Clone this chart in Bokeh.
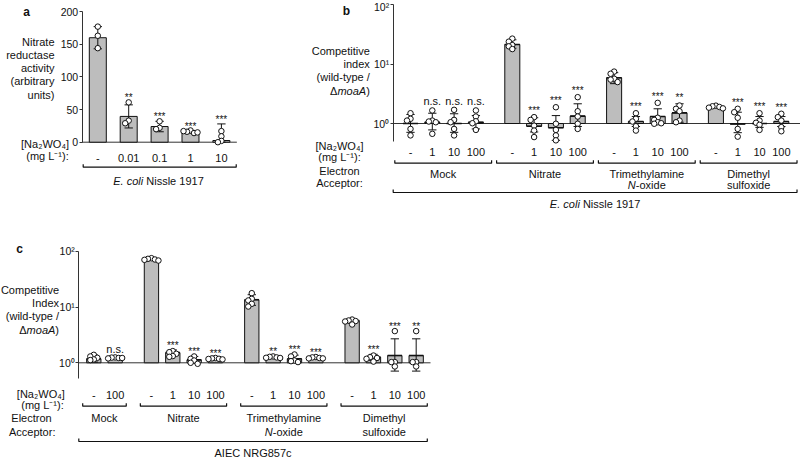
import math
from bokeh.plotting import figure
from bokeh.layouts import column, row
from bokeh.models import Range1d, FixedTicker, CustomJSTickFormatter
from bokeh.core.properties import value
from bokeh.embed import file_html
from bokeh.resources import INLINE

FONT = "Liberation Sans"
INK = "#111111"
AXIS = "#333333"
BAR = "#bdbdbd"

# ---------------- data ----------------
a_doses = ["-", "0.01", "0.1", "1", "10"]
a_mean = [160, 39.5, 24, 16, 2.6]
a_sd = [17, 17.7, 8, 2, 25.4]
a_points = [[177, 163, 144], [61, 33, 29], [32, 22, 20], [18, 16, 14, 17, 15], [17, 9, 2, 0]]
a_sig = ["", "**", "***", "***", "***"]
a_ticks = [0, 50, 100, 150, 200]

acceptor_lines = [["Mock"], ["Nitrate"], ["Trimethylamine", "N-oxide"], ["Dimethyl", "sulfoxide"]]

b_doses = [["-", "1", "10", "100"], ["-", "1", "10", "100"], ["-", "1", "10", "100"], ["-", "1", "10", "100"]]
b_mean = [[1.0, 1.05, 1.0, 1.05], [21.5, 0.90, 0.85, 1.33], [5.9, 1.08, 1.31, 1.51], [1.93, 0.98, 1.0, 1.08]]
b_lo = [[0.71, 0.78, 0.71, 0.81], [18.6, 0.72, 0.52, 0.89], [4.7, 0.89, 1.01, 1.05], [1.85, 0.70, 0.86, 0.89]]
b_hi = [[1.42, 1.49, 1.46, 1.36], [25.8, 1.25, 1.36, 2.15], [7.2, 1.31, 1.77, 2.15], [1.98, 1.55, 1.31, 1.31]]
b_points = [
    [[1.49, 1.20, 1.12, 0.81, 0.63], [1.66, 1.12, 1.08, 1.05, 0.67], [1.70, 1.15, 1.05, 0.81, 0.63], [1.66, 1.31, 1.09, 1.01, 0.78]],
    [[27, 24, 21, 20, 18], [1.28, 1.15, 0.92, 0.76, 0.59], [1.88, 0.99, 0.78, 0.63, 0.52], [2.78, 1.61, 1.31, 0.99, 0.81]],
    [[7.5, 6.9, 5.7, 5.5, 5.0], [1.49, 1.20, 1.08, 0.90, 0.76], [2.23, 1.25, 1.15, 1.05, 1.01, 0.99], [2.01, 1.77, 1.61, 1.12, 1.05]],
    [[2.0, 1.95, 1.9, 1.85, 1.8], [1.77, 1.55, 1.25, 0.81, 0.60], [1.49, 1.12, 1.03, 0.95, 0.78], [1.46, 1.28, 1.12, 0.87, 0.74]],
]
b_sig = [["", "n.s.", "n.s.", "n.s."], ["", "***", "***", "***"], ["", "***", "***", "**"], ["", "***", "***", "***"]]

c_doses = [["-", "100"], ["-", "1", "10", "100"], ["-", "1", "10", "100"], ["-", "1", "10", "100"]]
c_mean = [[1.18, 1.23], [71, 1.52, 1.13, 1.18], [13.5, 1.26, 1.18, 1.23], [5.7, 1.26, 1.35, 1.35]]
c_lo = [[1.03, 1.2], [68, 1.35, 0.98, 1.15], [10.7, 1.22, 1.02, 1.19], [5.1, 1.1, 0.71, 0.71]]
c_hi = [[1.38, 1.26], [74, 1.7, 1.3, 1.21], [16.6, 1.3, 1.37, 1.27], [6.1, 1.42, 2.69, 2.69]]
c_points = [
    [[1.39, 1.30, 1.23, 1.15, 1.12], [1.25, 1.24, 1.22, 1.20, 1.22]],
    [[75, 73, 71, 70, 68], [1.62, 1.55, 1.45, 1.32, 1.28], [1.30, 1.18, 1.10, 1.00, 0.96], [1.22, 1.20, 1.18, 1.17, 1.15]],
    [[17.7, 14.0, 13.1, 11.4, 10.2], [1.30, 1.28, 1.25, 1.23, 1.22], [1.41, 1.30, 1.10, 1.07, 1.03], [1.27, 1.25, 1.22, 1.20, 1.20]],
    [[5.96, 5.73, 5.6, 5.5, 4.86], [1.35, 1.26, 1.22, 1.18, 1.05], [3.7, 1.03, 0.86, 1.03], [3.7, 1.03, 0.86, 1.03]],
]
c_sig = [["", "n.s."], ["", "***", "***", "***"], ["", "**", "***", "***"], ["", "***", "***", "**"]]

# ---------------- layout helpers ----------------
W_ALL, H_ALL = 800, 458
SX = W_ALL / 800
SY = H_ALL / 458
TOP_H = 220
A_W = 265


class Geo:
    """maps reference-picture pixels to data coordinates"""
    def __init__(self, X0, U, Yb, S, log):
        self.X0, self.U, self.Yb, self.S, self.log = X0, U, Yb, S, log

    def x(self, X):
        return (X - self.X0) / self.U

    def y(self, Y):
        v = (self.Yb - Y) / self.S
        return 10 ** v if self.log else v

    def Y(self, v):
        return self.Yb - (math.log10(v) if self.log else v) * self.S


def make_fig(G, L, T, W, H):
    p = figure(width=W, height=H,
               x_range=Range1d(G.x(L / SX), G.x((L + W) / SX)),
               y_range=Range1d(G.y((T + H) / SY), G.y(T / SY)),
               y_axis_type="log" if G.log else "linear",
               output_backend="svg", toolbar_location=None, title=None)
    p.min_border = 0
    p.min_border_left = p.min_border_right = p.min_border_top = p.min_border_bottom = 0
    p.outline_line_color = None
    p.background_fill_color = "white"
    p.border_fill_color = "white"
    p.grid.visible = False
    p.xaxis.visible = False
    return p


def setup_yaxis(p, G, axis_X, bounds, ticks):
    ax = p.yaxis[0]
    ax.fixed_location = G.x(axis_X)
    ax.bounds = bounds
    ax.ticker = FixedTicker(ticks=ticks)
    ax.axis_line_color = AXIS
    ax.axis_line_width = 1
    ax.major_tick_line_color = AXIS
    ax.major_tick_out = 3
    ax.major_tick_in = 0
    ax.minor_tick_line_color = None
    ax.major_label_standoff = 1
    ax.major_label_text_font = FONT
    ax.major_label_text_font_size = "10.5px"
    ax.major_label_text_color = INK
    if G.log:
        ax.formatter = CustomJSTickFormatter(code="""
            const e = Math.round(Math.log10(tick));
            const sup = {"0": "\u2070", "1": "\u00b9", "2": "\u00b2", "3": "\u00b3", "-": "\u207b"};
            return "10" + String(e).split("").map(c => sup[c]).join("");
        """)


def txt(p, x, y, s, size="11px", align="center", style="normal", xo=0, baseline="middle"):
    p.text(x=[x], y=[y], text=[s], text_font=value(FONT), text_font_size=size,
           text_align=align, text_baseline=baseline, text_font_style=style,
           x_offset=xo, text_color=INK)


def swarm(G, vals, step):
    placed, offs = [], []
    for v in vals:
        Yp = G.Y(v) if (v > 0 or not G.log) else G.Yb
        dx = 0.0
        for k in [0, -1, 1, -2, 2, -3, 3]:
            dx = k * step
            if all((dx - ox) ** 2 + (Yp - oy) ** 2 >= step ** 2 - 1e-6 for ox, oy in placed):
                break
        placed.append((dx, Yp))
        offs.append(dx / G.U)
    return offs


def draw_bars(p, G, xs, means, lo, hi, pts, sig, bw, cw, base, star_gap, ns_gap, step):
    n = len(xs)
    p.quad(left=[x - bw / 2 for x in xs], right=[x + bw / 2 for x in xs],
           bottom=[base] * n, top=means, fill_color=BAR, line_color=INK, line_width=1)
    if G.log:
        p.segment(x0=[x - bw / 2 for x in xs], x1=[x + bw / 2 for x in xs], y0=means, y1=means,
                  line_color=INK, line_width=1.6)
    p.segment(x0=xs, x1=xs, y0=lo, y1=hi, line_color=INK, line_width=1)
    p.segment(x0=[x - cw / 2 for x in xs] * 2, x1=[x + cw / 2 for x in xs] * 2,
              y0=list(hi) + list(lo), y1=list(hi) + list(lo), line_color=INK, line_width=1)
    px, py = [], []
    for x, vals in zip(xs, pts):
        for o, v in zip(swarm(G, vals, step), vals):
            px.append(x + o)
            py.append(v)
    p.scatter(x=px, y=py, marker="circle", size=5.5, fill_color="white", line_color=INK, line_width=1)
    for x, h, vals, s in zip(xs, hi, pts, sig):
        if not s:
            continue
        top = min([G.Y(h)] + [G.Y(v) for v in vals if (v > 0 or not G.log)])
        if s == "n.s.":
            txt(p, x, G.y(top - ns_gap), s, size="11px")
        else:
            txt(p, x, G.y(top - star_gap), s, size="10px")


def bracket_xy(G, a, b, Yref, h=3):
    yb, yt = G.y(Yref), G.y(Yref - h)
    return [a, a, b, b], [yt, yb, yb, yt]


def species_label(p, x, y, italic, rest, fs=11):
    # Arial-like advance widths (em) of the two parts
    w_it, w_rest, w_sp = 2.723, 5.224, 0.278
    split = fs * (w_it - (w_it + w_sp + w_rest) / 2)
    txt(p, x, y, italic, align="right", style="italic", xo=split, size=f"{fs}px")
    txt(p, x, y, rest, align="left", xo=split + fs * w_sp, size=f"{fs}px")


def moaA_label(p, x, y, fs=11):
    txt(p, x, y, ")", align="right", size=f"{fs}px")
    txt(p, x, y, "moaA", align="right", style="italic", xo=-fs * 0.333, size=f"{fs}px")
    txt(p, x, y, "\u0394", align="right", xo=-fs * (0.333 + 2.612), size=f"{fs}px")


def noxide_label(p, x, y, fs=11):
    split = fs * (0.722 - (0.722 + 2.723) / 2)
    txt(p, x, y, "N", align="right", style="italic", xo=split, size=f"{fs}px")
    txt(p, x, y, "-oxide", align="left", xo=split, size=f"{fs}px")


# ---------------- panel a ----------------
GA = Geo(97.3, 30.9, 141.7, 0.653, False)
fa = make_fig(GA, 0, 0, A_W, TOP_H)
setup_yaxis(fa, GA, 81.7, (0, 200), a_ticks)
xs_a = list(range(len(a_doses)))
fa.segment(x0=[GA.x(81.7)], x1=[xs_a[-1] + 0.5], y0=[0], y1=[0], line_color=AXIS, line_width=1)
a_lo = [max(m - s, 0) for m, s in zip(a_mean, a_sd)]
a_hi = [m + s for m, s in zip(a_mean, a_sd)]
draw_bars(fa, GA, xs_a, a_mean, a_lo, a_hi, a_points, a_sig, 0.55, 0.27, 0, 4.4, 6, 3.5)
txt(fa, GA.x(26), GA.y(11), "a", size="12px", style="bold")
for k, line in enumerate(["Nitrate", "reductase", "activity", "(arbitrary", "units)"]):
    txt(fa, GA.x(54), GA.y(41 + 13.3 * k), line, align="right")
txt(fa, GA.x(44.5), GA.y(143), "[Na\u2082WO\u2084]")
txt(fa, GA.x(47), GA.y(155.5), "(mg L\u207b\u00b9):")
fa.text(x=xs_a, y=[GA.y(157)] * len(xs_a), text=a_doses, text_font=value(FONT), text_font_size="11px",
        text_align="center", text_baseline="middle", text_color=INK)
bx, by = bracket_xy(GA, GA.x(82.7), xs_a[-1] + 0.48, 166.7)
fa.line(x=bx, y=by, line_color=INK, line_width=1.2)
species_label(fa, GA.x(158), GA.y(180), "E. coli", "Nissle 1917")


# ---------------- panels b and c ----------------
def group_panel(p, G, cfg, doses, means, lo, hi, pts, sig):
    xs_g, start = [], 0.0
    for d in doses:
        xs_g.append([start + i for i in range(len(d))])
        start += len(d) - 1 + cfg["gap"]
    flat = lambda L: [v for g in L for v in g]
    xs = flat(xs_g)
    ax_x = G.x(cfg["axis_X"])
    setup_yaxis(p, G, cfg["axis_X"], (G.y(cfg["axis_bottom_Y"]), 100), [1, 10, 100])
    p.segment(x0=[ax_x], x1=[G.x(cfg["base_end_X"])], y0=[1], y1=[1], line_color=AXIS, line_width=1)
    draw_bars(p, G, xs, flat(means), flat(lo), flat(hi), flat(pts), flat(sig),
              cfg["bw"], cfg["cw"], 1, cfg["star_gap"], cfg["ns_gap"], cfg["step"])
    p.text(x=xs, y=[G.y(cfg["cat_Y"])] * len(xs), text=flat(doses), text_font=value(FONT),
           text_font_size="11px", text_align="center", text_baseline="middle", text_color=INK)
    mx, my = [], []
    for g in xs_g:
        a, b = bracket_xy(G, g[0] - cfg["pad"], g[-1] + cfg["pad"], cfg["brk_Y"])
        mx.append(a)
        my.append(b)
    a, b = bracket_xy(G, ax_x, xs_g[-1][-1] + cfg["pad"], cfg["big_Y"])
    mx.append(a)
    my.append(b)
    p.multi_line(xs=mx, ys=my, line_color=INK, line_width=1.2)
    for g, lines in zip(xs_g, acceptor_lines):
        xc = (g[0] + g[-1]) / 2
        for k, line in enumerate(lines):
            yk = G.y(cfg["grp_Y"][k])
            if line == "N-oxide":
                noxide_label(p, xc, yk)
            else:
                txt(p, xc, yk, line)
    xbig = (ax_x + xs_g[-1][-1] + cfg["pad"]) / 2
    return xbig


GB = Geo(410, 21.8, 123, 59.3, True)
fb = make_fig(GB, A_W, 0, W_ALL - A_W, TOP_H)
cfg_b = dict(gap=1.67, axis_X=392.7, axis_bottom_Y=141, base_end_X=800, bw=0.69, cw=0.38, pad=0.72,
             star_gap=6.5, ns_gap=9, step=3.5, cat_Y=151.7, brk_Y=162.7, big_Y=192,
             grp_Y=[173.3, 184.3])
xc_b = group_panel(fb, GB, cfg_b, b_doses, b_mean, b_lo, b_hi, b_points, b_sig)
txt(fb, GB.x(346), GB.y(10), "b", size="12px", style="bold")
for k, line in enumerate(["Competitive", "index", "(wild-type /"]):
    txt(fb, GB.x(369.3), GB.y(50 + 13.3 * k), line, align="right")
moaA_label(fb, GB.x(369.3), GB.y(90))
for s, Yr in [("[Na\u2082WO\u2084]", 145), ("(mg L\u207b\u00b9):", 156.7), ("Electron", 170), ("Acceptor:", 182.7)]:
    txt(fb, GB.x(339), GB.y(Yr), s)
species_label(fb, xc_b, GB.y(203.3), "E. coli", "Nissle 1917")

GC = Geo(93.3, 21.35, 362.3, 55.8, True)
fc = make_fig(GC, 0, TOP_H, W_ALL, H_ALL - TOP_H)
cfg_c = dict(gap=1.7, axis_X=78.3, axis_bottom_Y=377.7, base_end_X=430, bw=0.67, cw=0.39, pad=0.52,
             star_gap=4.5, ns_gap=8.5, step=3.5, cat_Y=394, brk_Y=405.7, big_Y=441,
             grp_Y=[417.7, 431.7])
xc_c = group_panel(fc, GC, cfg_c, c_doses, c_mean, c_lo, c_hi, c_points, c_sig)
txt(fc, GC.x(19), GC.y(248.3), "c", size="12px", style="bold")
for k, line in enumerate(["Competitive", "Index", "(wild-type /"]):
    txt(fc, GC.x(58.5), GC.y(289.3 + 13.3 * k), line, align="right")
moaA_label(fc, GC.x(58.5), GC.y(329.3))
for s, Xr, Yr in [("[Na\u2082WO\u2084]", 40.3, 393.3), ("(mg L\u207b\u00b9):", 42, 404.5),
                  ("Electron", 31, 417.7), ("Acceptor:", 31.7, 431)]:
    txt(fc, GC.x(Xr), GC.y(Yr), s)
txt(fc, xc_c, GC.y(452.3), "AIEC NRG857c")

layout = column(row(fa, fb), fc)
open("out.html", "w").write(file_html(layout, INLINE))
